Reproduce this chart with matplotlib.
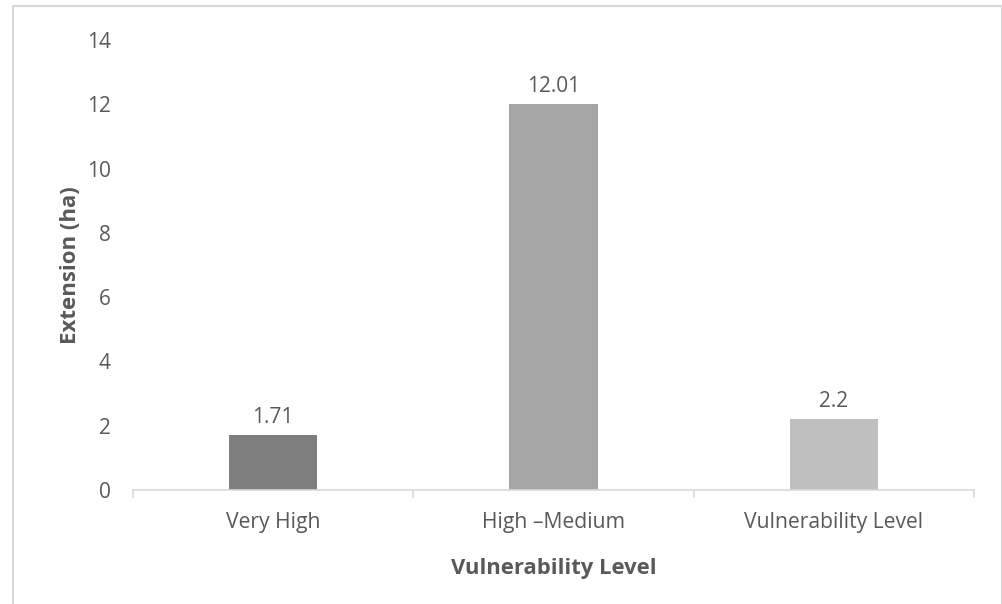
import matplotlib
matplotlib.use("Agg")
import matplotlib.pyplot as plt
from matplotlib.lines import Line2D
import numpy as np

categories = ["Very High", "High \u2013Medium", "Vulnerability Level"]
values = [1.71, 12.01, 2.2]
labels = ["1.71", "12.01", "2.2"]
colors = ["#7f7f7f", "#a5a5a5", "#bfbfbf"]
yticks = [0, 2, 4, 6, 8, 10, 12, 14]

plt.rcParams['font.family'] = ['Open Sans', 'DejaVu Sans']
W, H = 1003, 604
fig = plt.figure(figsize=(W/100, H/100), dpi=100)
ax = fig.add_axes([133/W, 1-490/H, (974-133)/W, (490-40)/H])

x = np.arange(len(categories))
ax.bar(x, values, width=0.314, color=colors, zorder=2)
for xi, v, lab in zip(x, values, labels):
    ax.annotate(lab, (xi, v), xytext=(0, 5), textcoords="offset points",
                ha="center", va="bottom", fontsize=15, color="#595959")

ax.set_xlim(-0.5, 2.5)
ax.set_ylim(0, 14)
ax.set_yticks(yticks)
ax.set_yticklabels([str(t) for t in yticks])
ax.set_xticks(x)
ax.set_xticklabels(categories)
ax.set_xticks([-0.5, 0.5, 1.5, 2.5], minor=True)
ax.tick_params(axis='x', which='major', length=0, pad=16, labelsize=15.2, labelcolor="#595959")
ax.tick_params(axis='x', which='minor', length=6, color="#d9d9d9", width=1.2)
ax.tick_params(axis='y', length=0, pad=16, labelsize=15, labelcolor="#595959")
for s in ["top", "right", "left"]:
    ax.spines[s].set_visible(False)
ax.spines["bottom"].set_color("#d9d9d9")
ax.spines["bottom"].set_linewidth(1.2)

ax.set_xlabel("Vulnerability Level", fontsize=15.8, fontweight="bold", color="#595959", labelpad=18)
ax.set_ylabel("Extension (ha)", fontsize=16, fontweight="bold", color="#595959", labelpad=4)

# chart border
bc = "#d9d9d9"
fig.add_artist(Line2D([13/W, 1002/W], [1-6/H, 1-6/H], color=bc, lw=1.5, transform=fig.transFigure))
fig.add_artist(Line2D([13/W, 13/W], [1-6/H, 0], color=bc, lw=1.5, transform=fig.transFigure))
fig.add_artist(Line2D([1002/W, 1002/W], [1-6/H, 0], color=bc, lw=1.5, transform=fig.transFigure))

fig.savefig("out.png", dpi=100)
